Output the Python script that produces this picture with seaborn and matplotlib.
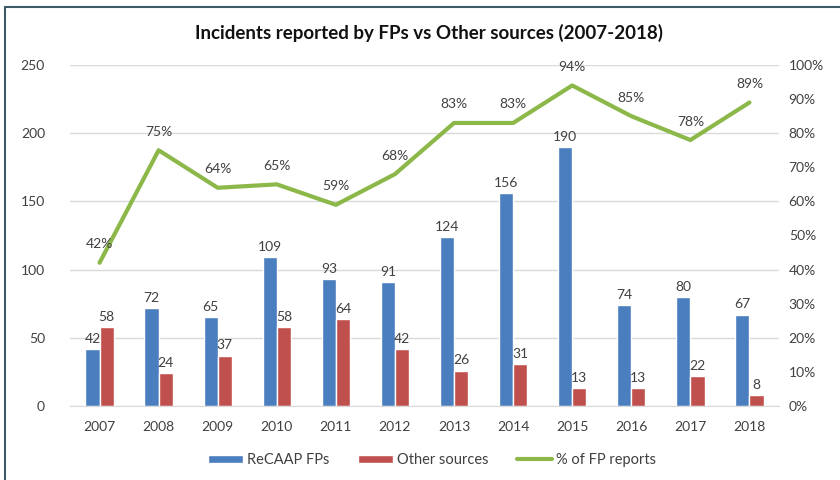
import numpy as np
import pandas as pd
import matplotlib
matplotlib.use("Agg")
import matplotlib.pyplot as plt
import seaborn as sns
from matplotlib.lines import Line2D
from matplotlib.patches import Patch

# --- data ---
years = ["2007", "2008", "2009", "2010", "2011", "2012",
         "2013", "2014", "2015", "2016", "2017", "2018"]
recaap_fps = [42, 72, 65, 109, 93, 91, 124, 156, 190, 74, 80, 67]
other_sources = [58, 24, 37, 58, 64, 42, 26, 31, 13, 13, 22, 8]
fp_share = [42, 75, 64, 65, 59, 68, 83, 83, 94, 85, 78, 89]

BLUE = "#4a7ebf"
RED = "#c0504d"
GREEN = "#8cb84a"
TXT = "#404040"

sns.set_style("white")
plt.rcParams["font.family"] = ["Lato", "DejaVu Sans"]

df = pd.DataFrame({
    "Year": years * 2,
    "Incidents": recaap_fps + other_sources,
    "Source": ["ReCAAP FPs"] * len(years) + ["Other sources"] * len(years),
})
line_df = pd.DataFrame({"Year": years, "Share": fp_share})

fig = plt.figure(figsize=(8.4, 4.8), dpi=100)
ax = fig.add_axes([70 / 840, 1 - 406 / 480, 709 / 840, 341 / 480])

sns.barplot(data=df, x="Year", y="Incidents", hue="Source",
            palette=[BLUE, RED], width=0.48, saturation=1,
            legend=False, ax=ax, zorder=2)
for cont in ax.containers:
    ax.bar_label(cont, padding=3, fontsize=10, color=TXT)

ax.set_ylim(0, 250)
ax.set_yticks(np.arange(0, 251, 50))
ax.yaxis.grid(True, color="#d9d9d9", linewidth=1, zorder=0)
ax.set_axisbelow(True)
for s in ["top", "right", "left"]:
    ax.spines[s].set_visible(False)
ax.spines["bottom"].set_color("#d9d9d9")
ax.tick_params(axis="both", length=0, labelsize=10, labelcolor=TXT)
ax.tick_params(axis="x", pad=11)
ax.tick_params(axis="y", pad=18)
ax.set_xlabel("")
ax.set_ylabel("")

ax2 = ax.twinx()
sns.lineplot(data=line_df, x="Year", y="Share", color=GREEN,
             linewidth=3, ax=ax2, zorder=3)
for i, v in enumerate(fp_share):
    ax2.annotate(f"{v}%", (i, v), xytext=(0, 9), textcoords="offset points",
                 ha="center", va="bottom", fontsize=10, color=TXT)
ax2.set_ylim(0, 100)
ax2.set_yticks(np.arange(0, 101, 10))
ax2.set_yticklabels([f"{t}%" for t in range(0, 101, 10)])
for s in ax2.spines.values():
    s.set_visible(False)
ax2.tick_params(axis="y", length=0, labelsize=10, labelcolor=TXT, pad=7)
ax2.set_ylabel("")
ax.set_xlim(-0.5, len(years) - 0.5)

fig.text(429 / 840, 1 - 33 / 480,
         "Incidents reported by FPs vs Other sources (2007-2018)",
         ha="center", va="center", fontsize=13.5, fontweight="bold", color="#111111")

handles = [Patch(facecolor=BLUE, label="ReCAAP FPs"),
           Patch(facecolor=RED, label="Other sources"),
           Line2D([], [], color=GREEN, linewidth=3, label="% of FP reports")]
fig.legend(handles=handles, loc="center", bbox_to_anchor=(432 / 840, 1 - 460 / 480),
           ncol=3, frameon=False, fontsize=10.5, handlelength=2.4, handleheight=0.5,
           columnspacing=2.0, handletextpad=0.25, labelcolor=TXT)

# outer frame (left and top edges visible in the reference)
fig.add_artist(Line2D([5 / 840, 5 / 840], [0, 1 - 7 / 480],
                      transform=fig.transFigure, color="#3d5a66", linewidth=1.5))
fig.add_artist(Line2D([5 / 840, 1], [1 - 7 / 480, 1 - 7 / 480],
                      transform=fig.transFigure, color="#3d5a66", linewidth=1.5))

fig.savefig("out.png", dpi=100)
